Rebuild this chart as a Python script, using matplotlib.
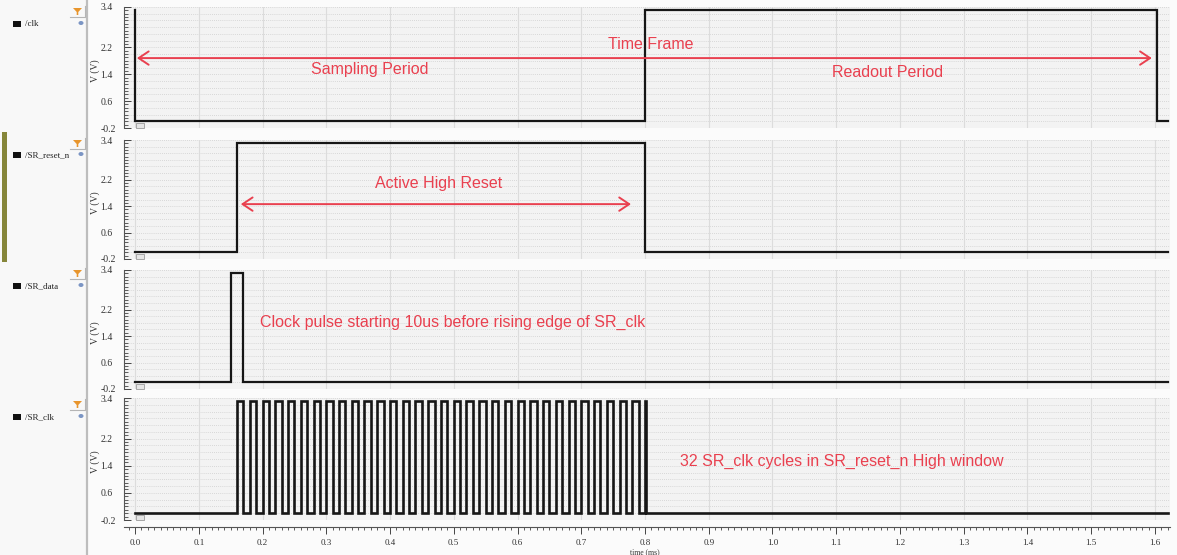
import matplotlib
matplotlib.use("Agg")
import matplotlib.pyplot as plt
from matplotlib.ticker import FixedLocator, MultipleLocator, FormatStrFormatter
from matplotlib.patches import Rectangle, Polygon, Ellipse

# ---- waveform data (time in ms, voltage in V) ----
signal_names = ["/clk", "/SR_reset_n", "/SR_data", "/SR_clk"]

clk_t = [0.0, 0.0, 0.8, 1.603, 1.62]
clk_v = [3.3, 0.0, 3.3, 0.0, 0.0]

reset_t = [0.0, 0.16, 0.8, 1.62]
reset_v = [0.0, 3.3, 0.0, 0.0]

data_t = [0.0, 0.15, 0.17, 1.62]
data_v = [0.0, 3.3, 0.0, 0.0]

sr_clk_rise = [0.16, 0.18, 0.20, 0.22, 0.24, 0.26, 0.28, 0.30,
               0.32, 0.34, 0.36, 0.38, 0.40, 0.42, 0.44, 0.46,
               0.48, 0.50, 0.52, 0.54, 0.56, 0.58, 0.60, 0.62,
               0.64, 0.66, 0.68, 0.70, 0.72, 0.74, 0.76, 0.78]
sr_clk_high_time = 0.01
sr_clk_glitch = [0.800, 0.8015]
v_high = 3.3
t_end = 1.62

y_ticks = [-0.2, 0.6, 1.4, 2.2, 3.4]

RED = "#e9404f"
SERIF = "Liberation Serif"
SANS = "Liberation Sans"

# build the SR_clk step waveform
sr_t, sr_v = [0.0], [0.0]
for r in sr_clk_rise:
    sr_t += [r, r + sr_clk_high_time]
    sr_v += [v_high, 0.0]
sr_t += [sr_clk_glitch[0], sr_clk_glitch[1], t_end]
sr_v += [v_high, 0.0, 0.0]

waves = [(clk_t, clk_v), (reset_t, reset_v), (data_t, data_v), (sr_t, sr_v)]

W, H = 1177, 555
fig = plt.figure(figsize=(W / 100, H / 100), dpi=100, facecolor="#fbfbfb")

# background layer for the signal-name sidebar
bg = fig.add_axes([0, 0, 1, 1], zorder=-5)
bg.set_xlim(0, W)
bg.set_ylim(H, 0)
bg.axis("off")
bg.add_patch(Rectangle((0, 0), 87, H, facecolor="#f8f8f8", edgecolor="none"))
bg.plot([87, 87], [0, H], color="#bdbdbd", lw=1.6)
bg.add_patch(Rectangle((2, 132), 5, 130, facecolor="#86863a", edgecolor="none"))

# plot panels, in pixel rows (top, bottom)
panel_px = [(7, 128), (140, 259), (270, 389), (398, 520)]
x_left_px, x_right_px = 124, 1170
x0_px, px_per_ms = 135, 637.5


def to_ms(px):
    return (px - x0_px) / px_per_ms


axes = []
for i, ((top, bot), (t, v)) in enumerate(zip(panel_px, waves)):
    ax = fig.add_axes([x_left_px / W, 1 - bot / H,
                       (x_right_px - x_left_px) / W, (bot - top) / H])
    ax.set_facecolor("#f3f3f3")
    ax.set_xlim(to_ms(x_left_px), to_ms(x_right_px))
    ax.set_ylim(-0.2, 3.4)
    for s in ("top", "right", "bottom"):
        ax.spines[s].set_visible(False)
    ax.spines["left"].set_color("#555555")
    ax.spines["left"].set_linewidth(0.8)

    # grid
    ax.xaxis.set_major_locator(MultipleLocator(0.1))
    ax.grid(axis="x", which="major", color="#dcdcdc", lw=0.8)
    gy = -0.2
    while gy < 3.41:
        ax.axhline(gy, color="#cfcfcf", lw=0.6, ls=(0, (1, 1.5)), zorder=0.5)
        gy += 0.2
    ax.set_axisbelow(True)

    # y axis
    ax.yaxis.set_major_locator(FixedLocator(y_ticks))
    ax.yaxis.set_minor_locator(MultipleLocator(0.1))
    ax.yaxis.set_major_formatter(FormatStrFormatter("%.1f"))
    ax.tick_params(axis="y", which="major", direction="in", length=5,
                   width=0.7, color="#444444", labelsize=7, pad=17,
                   labelcolor="#333333")
    ax.tick_params(axis="y", which="minor", direction="in", length=3,
                   width=0.6, color="#444444")
    for lab in ax.get_yticklabels():
        lab.set_horizontalalignment("left")
        lab.set_fontfamily(SERIF)

    ax.step(t, v, where="post", color="#161616",
            lw=1.9 if i == 3 else 1.6, zorder=3, solid_joinstyle="miter")

    if i < 3:
        ax.tick_params(axis="x", which="both", length=0, labelbottom=False)
    else:
        ax.spines["bottom"].set_visible(True)
        ax.spines["bottom"].set_position(("outward", 5))
        ax.spines["bottom"].set_color("#555555")
        ax.spines["bottom"].set_linewidth(0.8)
        ax.xaxis.set_minor_locator(MultipleLocator(0.01))
        ax.xaxis.set_major_formatter(FormatStrFormatter("%.1f"))
        ax.tick_params(axis="x", which="major", direction="out", length=5,
                       width=0.7, color="#444444", labelsize=6.5, pad=4,
                       labelcolor="#333333")
        ax.tick_params(axis="x", which="minor", direction="out", length=2.5,
                       width=0.6, color="#444444")
        for lab in ax.get_xticklabels():
            lab.set_fontfamily(SERIF)
    axes.append(ax)

ax1, ax2, ax3, ax4 = axes
arrow = dict(arrowstyle="<->,head_length=0.6,head_width=0.4", color=RED,
             lw=1.4, mutation_scale=12, shrinkA=0, shrinkB=0)

# clk panel
ax1.annotate("", xy=(1.595, 1.88), xytext=(0.003, 1.88), arrowprops=arrow,
             zorder=4)
ax1.text(0.809, 2.27, "Time Frame", color=RED, fontsize=11.5,
         family=SANS, ha="center", va="center", zorder=5)
ax1.text(0.369, 1.53, "Sampling Period", color=RED, fontsize=11.5,
         family=SANS, ha="center", va="center", zorder=5)
ax1.text(1.181, 1.44, "Readout Period", color=RED, fontsize=11.5,
         family=SANS, ha="center", va="center", zorder=5)

# SR_reset_n panel
ax2.annotate("", xy=(0.778, 1.46), xytext=(0.166, 1.46), arrowprops=arrow,
             zorder=4)
ax2.text(0.477, 2.07, "Active High Reset", color=RED, fontsize=11.5,
         family=SANS, ha="center", va="center", zorder=5)

# SR_data panel
ax3.text(0.196, 1.8, "Clock pulse starting 10us before rising edge of SR_clk",
         color=RED, fontsize=11.5, family=SANS, ha="left", va="center",
         zorder=5)

# SR_clk panel
ax4.text(0.855, 1.54, "32 SR_clk cycles in SR_reset_n High window",
         color=RED, fontsize=11.5, family=SANS, ha="left", va="center",
         zorder=5)

# overlay layer: sidebar entries, axis captions, panel badges
ov = fig.add_axes([0, 0, 1, 1], zorder=10)
ov.set_xlim(0, W)
ov.set_ylim(H, 0)
ov.axis("off")
ov.patch.set_alpha(0)

name_y = [24, 155, 286, 417]
funnel_top = [7, 139, 269, 400]
for (top, bot), ny, ft, name in zip(panel_px, name_y, funnel_top, signal_names):
    ov.add_patch(Rectangle((13, ny - 3), 8, 6, facecolor="#111111",
                           edgecolor="none"))
    ov.text(25, ny, name, family=SERIF, fontsize=6.5, color="#222222",
            ha="left", va="center")
    ov.add_patch(Polygon([(73, ft + 1), (82, ft + 1), (78.3, ft + 5),
                          (78.3, ft + 8), (76.7, ft + 8), (76.7, ft + 5)],
                         closed=True, facecolor="#e8952c", edgecolor="none"))
    ov.plot([70, 85, 85], [ft + 10, ft + 10, ft - 1], color="#b5b5b5", lw=0.8)
    ov.add_patch(Ellipse((81, ny - 1), 5, 4, facecolor="#7b95c4",
                         edgecolor="none"))
    ov.text(95, (top + bot) / 2 + 3, "V (V)", family=SERIF, fontsize=7,
            color="#333333", rotation=90, ha="center", va="center")
    ov.add_patch(Rectangle((136, bot - 5), 8, 5, facecolor="#e4e4e4",
                           edgecolor="#9a9a9a", lw=0.6))

ov.text(x0_px + 0.8 * px_per_ms, 552, "time (ms)", family=SERIF, fontsize=5.5,
        color="#333333", ha="center", va="center")

fig.savefig("out.png", dpi=100, facecolor=fig.get_facecolor())
